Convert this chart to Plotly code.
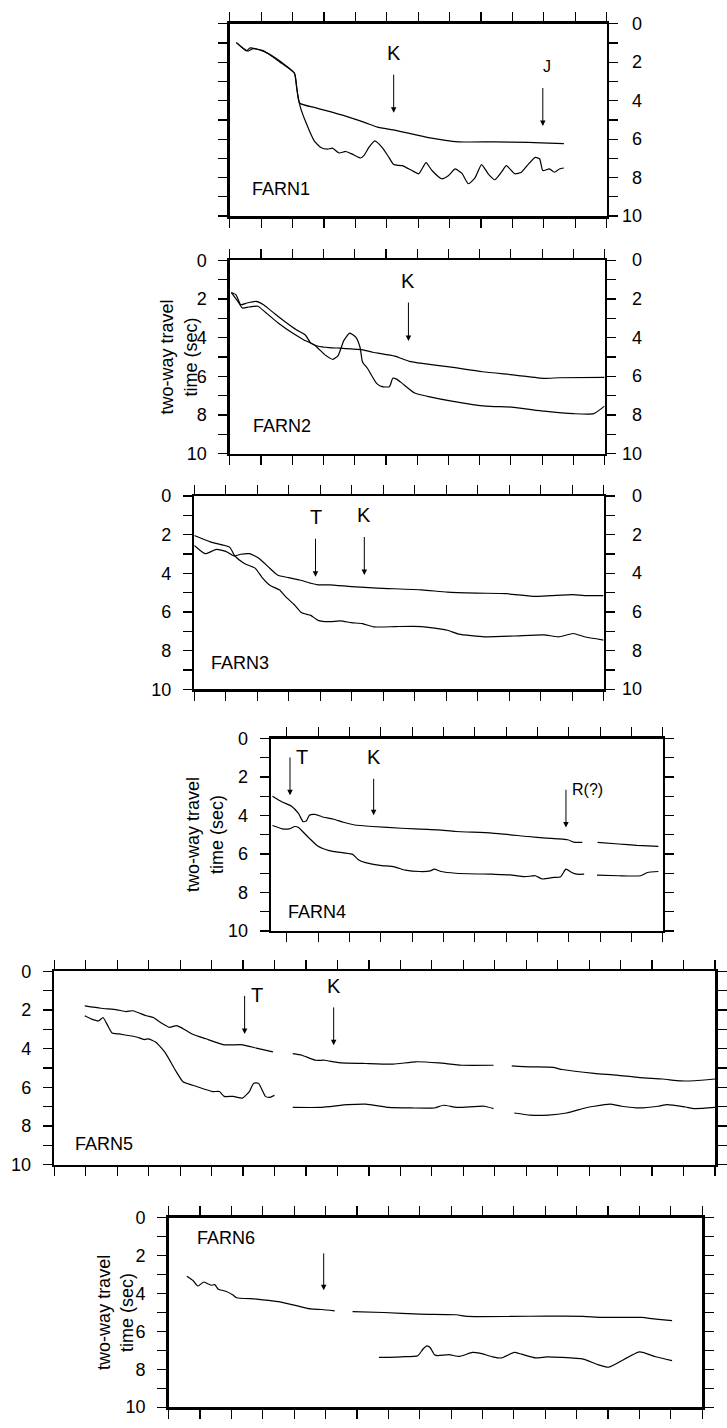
import plotly.graph_objects as go

# ---------------- data (x: distance in tick units, y: two-way travel time, s) ----------------
p1_upper_x = [0.21, 0.58, 0.74, 1.06, 1.58, 2.06, 2.22, 2.74, 3.69, 4.33, 4.70, 5.28, 6.33, 7.28, 8.44, 9.50, 9.92, 10.64]
p1_upper_y = [0.98, 1.42, 1.29, 1.39, 1.97, 2.57, 4.12, 4.37, 4.80, 5.15, 5.37, 5.54, 5.92, 6.14, 6.14, 6.17, 6.19, 6.23]
p1_lower_x = [0.21, 0.53, 0.65, 1.06, 1.48, 1.79, 2.06, 2.13, 2.24, 2.43, 2.69, 2.90, 3.11, 3.27, 3.48, 3.69, 3.90,
              4.17, 4.27, 4.43, 4.62, 4.85, 5.07, 5.22, 5.49, 5.80, 6.02, 6.25, 6.44, 6.75, 6.97, 7.18, 7.39, 7.60,
              7.81, 8.02, 8.23, 8.44, 8.65, 8.81, 9.08, 9.29, 9.50, 9.73, 9.87, 9.97, 10.18, 10.34, 10.50, 10.64]
p1_lower_y = [0.98, 1.41, 1.25, 1.42, 1.80, 2.18, 2.57, 3.34, 4.29, 5.15, 6.09, 6.43, 6.52, 6.47, 6.72, 6.64, 6.78,
              6.98, 6.86, 6.43, 6.09, 6.43, 6.95, 7.32, 7.38, 7.63, 7.80, 7.22, 7.63, 8.06, 7.89, 7.55, 7.77, 8.32,
              8.01, 7.32, 7.80, 8.11, 7.72, 7.38, 7.80, 7.72, 7.32, 6.95, 7.03, 7.63, 7.55, 7.72, 7.55, 7.50]

p2_upper_x = [0.05, 0.20, 0.35, 0.55, 0.84, 1.08, 1.43, 1.78, 2.13, 2.42, 2.59, 2.83, 3.18, 3.53, 3.88, 4.23, 4.58,
              5.28, 5.75, 6.22, 7.03, 8.09, 9.14, 10.07, 10.54, 12.0]
p2_upper_y = [1.66, 1.78, 2.29, 2.20, 2.12, 2.29, 2.75, 3.19, 3.59, 3.86, 4.27, 4.44, 4.51, 4.54, 4.58, 4.61, 4.75,
              4.95, 5.22, 5.34, 5.51, 5.76, 5.93, 6.10, 6.07, 6.05]
p2_lower_x = [0.05, 0.26, 0.40, 0.61, 0.90, 1.19, 1.54, 2.01, 2.36, 2.71, 3.06, 3.30, 3.47, 3.65, 3.84, 4.04, 4.17,
              4.25, 4.41, 4.70, 4.87, 5.11, 5.22, 5.34, 5.52, 5.92, 6.33, 7.15, 8.20, 9.02, 10.07, 11.01, 11.65, 12.0]
p2_lower_y = [1.66, 2.12, 2.46, 2.41, 2.37, 2.75, 3.22, 3.76, 4.10, 4.37, 4.90, 5.12, 4.92, 4.15, 3.76, 3.98, 4.49,
              5.25, 5.59, 6.36, 6.53, 6.53, 6.10, 6.14, 6.36, 6.86, 7.03, 7.29, 7.54, 7.59, 7.80, 7.93, 7.93, 7.54]

p3_upper_x = [0, 0.35, 0.70, 1.00, 1.26, 1.47, 1.76, 2.06, 2.35, 2.64, 2.99, 3.35, 3.70, 3.93, 4.29, 4.99, 5.81,
              7.22, 8.04, 8.98, 9.92, 10.75, 11.33, 12.04, 12.39, 13.0]
p3_upper_y = [2.55, 2.98, 2.76, 2.86, 3.10, 3.01, 2.98, 3.23, 3.66, 4.08, 4.22, 4.34, 4.51, 4.59, 4.59, 4.68, 4.76,
              4.85, 4.97, 5.02, 5.05, 5.19, 5.15, 5.10, 5.15, 5.15]
p3_lower_x = [0, 0.53, 1.12, 1.29, 1.59, 1.94, 2.17, 2.41, 2.70, 2.94, 3.17, 3.41, 3.70, 3.93, 4.29, 4.64, 4.99,
              5.34, 5.70, 6.40, 7.22, 8.04, 8.40, 9.22, 10.16, 11.10, 11.57, 12.04, 12.39, 13.0]
p3_lower_y = [2.04, 2.38, 2.64, 3.10, 3.49, 3.74, 4.25, 4.63, 4.85, 5.27, 5.61, 6.04, 6.17, 6.43, 6.50, 6.46, 6.55,
              6.60, 6.77, 6.75, 6.75, 6.94, 7.14, 7.28, 7.24, 7.18, 7.28, 7.11, 7.28, 7.45]

p4_upper_x = [-0.46, -0.15, 0.14, 0.37, 0.52, 0.62, 0.72, 0.89, 1.12, 1.47, 1.81, 2.16, 2.74, 3.66, 4.82, 5.39,
              6.55, 7.70, 8.28, 8.97, 9.15, 9.43, None, 9.92, 10.59, 11.17, 11.86]
p4_upper_y = [2.99, 3.29, 3.50, 3.89, 4.32, 4.28, 3.98, 3.94, 4.06, 4.18, 4.35, 4.49, 4.57, 4.66, 4.74, 4.83,
              4.91, 5.09, 5.17, 5.26, 5.38, 5.39, None, 5.39, 5.48, 5.55, 5.60]
p4_lower_x = [-0.46, -0.15, 0.08, 0.25, 0.37, 0.66, 1.00, 1.35, 1.81, 2.10, 2.27, 2.51, 2.97, 3.43, 3.78, 4.24,
              4.58, 4.70, 4.93, 5.39, 6.55, 7.12, 7.59, 7.93, 8.16, 8.51, 8.74, 8.91, 9.09, 9.26, 9.49, None,
              9.90, 10.59, 11.29, 11.51, 11.86]
p4_lower_y = [4.52, 4.69, 4.69, 4.57, 4.62, 5.09, 5.60, 5.82, 5.94, 6.02, 6.28, 6.45, 6.59, 6.67, 6.84, 6.91,
              6.88, 6.79, 6.91, 7.00, 7.05, 7.08, 7.18, 7.13, 7.30, 7.22, 7.18, 6.79, 6.96, 7.05, 7.05, None,
              7.10, 7.13, 7.13, 6.96, 6.91]

p5_upper_x = [0.97, 1.48, 1.99, 2.28, 2.50, 2.93, 3.15, 3.37, 3.66, 3.88, 4.02, 4.38, 4.82, 5.40, 5.98, 6.42, 6.95,
              None, 7.58, 7.87, 8.30, 8.59, 9.03, 9.90, 10.77, 11.49, 12.22, 12.95, 13.96,
              None, 14.54, 15.12, 15.85, 16.14, 17.16, 17.88, 18.61, 19.33, 19.91, 20.35, 21.0]
p5_upper_y = [1.79, 1.91, 1.99, 2.08, 2.04, 2.30, 2.39, 2.64, 2.90, 2.81, 2.90, 3.24, 3.49, 3.80, 3.80, 3.97, 4.17,
              None, 4.26, 4.34, 4.60, 4.60, 4.72, 4.77, 4.80, 4.68, 4.74, 4.86, 4.86,
              None, 4.89, 4.94, 4.97, 5.08, 5.28, 5.37, 5.50, 5.57, 5.67, 5.66, 5.57]
p5_lower_x = [0.97, 1.19, 1.41, 1.55, 1.70, 1.84, 2.06, 2.35, 2.64, 2.86, 3.00, 3.22, 3.51, 3.88, 4.09, 4.53, 5.04,
              5.25, 5.40, 5.69, 5.98, 6.20, 6.34, 6.49, 6.63, 6.71, 6.85, 7.00,
              None, 7.58, 8.45, 9.32, 9.90, 10.62, 11.35, 12.08, 12.37, 12.80, 13.67, 13.96,
              None, 14.62, 15.12, 15.70, 16.28, 16.87, 17.16, 17.66, 18.03, 18.61, 19.19, 19.48, 20.06, 20.35, 21.0]
p5_lower_y = [2.30, 2.47, 2.56, 2.39, 2.81, 3.19, 3.24, 3.32, 3.41, 3.53, 3.49, 3.66, 4.17, 5.20, 5.71, 5.96, 6.22,
              6.22, 6.47, 6.47, 6.56, 6.22, 5.79, 5.79, 6.22, 6.47, 6.52, 6.42,
              None, 7.04, 7.04, 6.90, 6.87, 7.04, 7.07, 7.07, 6.93, 7.04, 6.98, 7.10,
              None, 7.33, 7.44, 7.44, 7.33, 7.07, 6.98, 6.87, 6.98, 7.07, 6.98, 6.90, 7.02, 7.10, 7.04]

p6_upper_x = [0.58, 0.77, 0.93, 1.12, 1.24, 1.35, 1.47, 1.58, 1.82, 2.05, 2.16, 2.80, 3.49, 4.07, 4.53, 4.88, 5.29,
              None, 5.86, 6.85, 8.00, 9.16, 9.51, 10.89, 12.05, 13.21, 13.79, 15.06, 15.52, 16.04]
p6_upper_y = [3.08, 3.30, 3.60, 3.39, 3.48, 3.56, 3.53, 3.77, 3.88, 4.08, 4.22, 4.29, 4.43, 4.64, 4.81, 4.84, 4.91,
              None, 4.95, 5.00, 5.09, 5.12, 5.21, 5.21, 5.19, 5.21, 5.26, 5.26, 5.35, 5.43]
p6_lower_x = [6.70, 7.42, 7.94, 8.10, 8.23, 8.33, 8.47, 8.58, 8.93, 9.27, 9.68, 9.91, 10.32, 10.60, 11.01, 11.24,
              11.70, 12.05, 12.51, 13.21, 13.67, 14.02, 15.00, 15.52, 16.04]
p6_lower_y = [7.37, 7.34, 7.28, 6.94, 6.76, 6.85, 7.23, 7.28, 7.23, 7.32, 7.11, 7.15, 7.34, 7.40, 7.11, 7.20,
              7.40, 7.34, 7.37, 7.46, 7.75, 7.89, 7.08, 7.34, 7.54]

# panel names, marker arrows (label, x, arrow top, arrow tip)
panel_names = ["FARN1", "FARN2", "FARN3", "FARN4", "FARN5", "FARN6"]
p1_markers = [("K", 5.22, 2.57, 4.63), ("J", 9.97, 3.26, 5.32)]
p2_markers = [("K", 5.72, 2.10, 4.17)]
p3_markers = [("T", 3.85, 2.13, 4.17), ("K", 5.40, 2.04, 4.08)]
p4_markers = [("T", 0.10, 0.90, 2.95), ("K", 2.77, 2.01, 3.98), ("R(?)", 8.91, 2.58, 4.62)]
p5_markers = [("T", 6.05, 1.19, 3.24), ("K", 8.88, 1.79, 3.83)]
p6_markers = [("", 4.94, 1.80, 3.82)]

y_ticks = list(range(0, 11))
y_ticktext = [str(v) if v % 2 == 0 else "" for v in y_ticks]
y_title = "two-way travel<br>time (sec)"

# ---------------- layout geometry (pixels) ----------------
W, H = 727, 1428
FONT = "Liberation Sans, Arial, Helvetica, sans-serif"

# (left, right, top, bottom, xmin, xmax, left labels, right labels, y title center x)
panels = [
    (233, 615, 14, 209, 0, 12, False, True, None),
    (233, 613, 254, 450, 0, 12, True, True, 181),
    (197, 612, 493, 689, 0, 13, True, True, None),
    (275, 672, 739, 934, -0.5, 12, True, False, 208),
    (55, 725, 975, 1171, 0, 21, True, False, None),
    (171, 712, 1225, 1417, 0, 17, True, False, 117),
]
series = [
    (p1_upper_x, p1_upper_y, p1_lower_x, p1_lower_y),
    (p2_upper_x, p2_upper_y, p2_lower_x, p2_lower_y),
    (p3_upper_x, p3_upper_y, p3_lower_x, p3_lower_y),
    (p4_upper_x, p4_upper_y, p4_lower_x, p4_lower_y),
    (p5_upper_x, p5_upper_y, p5_lower_x, p5_lower_y),
    (p6_upper_x, p6_upper_y, p6_lower_x, p6_lower_y),
]
markers = [p1_markers, p2_markers, p3_markers, p4_markers, p5_markers, p6_markers]
name_pos = [(0.65, 8.58), (0.67, 8.56), (0.47, 8.64), (-0.03, 9.0), (0.61, 8.94), (0.83, 1.06)]
label_sizes = {"K": 20, "T": 20, "J": 16, "R(?)": 16}

fig = go.Figure()
annotations = []
layout = {}

for i, (pan, ser) in enumerate(zip(panels, series), start=1):
    left, right, top, bottom, xmin, xmax, lab_left, lab_right, tcx = pan
    xa = "x" if i == 1 else f"x{i}"
    ya = "y" if i == 1 else f"y{i}"
    xkey = "xaxis" if i == 1 else f"xaxis{i}"
    ykey = "yaxis" if i == 1 else f"yaxis{i}"
    ux, uy, lx, ly = ser
    for xs, ys in ((ux, uy), (lx, ly)):
        fig.add_trace(go.Scatter(x=xs, y=ys, mode="lines", xaxis=xa, yaxis=ya,
                                 line=dict(color="black", width=1.2, shape="spline", smoothing=0.5),
                                 connectgaps=False, hoverinfo="skip", showlegend=False))
    layout[xkey] = dict(domain=[left / W, right / W], range=[xmin, xmax], anchor=ya,
                        tickmode="linear", tick0=0, dtick=1, ticks="outside", ticklen=9, tickwidth=1.2,
                        tickcolor="black", showline=True, linewidth=2.5, linecolor="black",
                        mirror="ticks", showticklabels=False, showgrid=False, zeroline=False)
    layout[ykey] = dict(domain=[1 - bottom / H, 1 - top / H], range=[10, 0], anchor=xa,
                        tickmode="array", tickvals=y_ticks, ticktext=y_ticktext, ticks="outside",
                        ticklen=9, tickwidth=1.2, tickcolor="black", showline=True, linewidth=2.5,
                        linecolor="black", mirror="ticks", showticklabels=lab_left, side="left",
                        ticklabelstandoff=8, showgrid=False, zeroline=False,
                        tickfont=dict(family=FONT, size=18, color="black"))
    if lab_right:
        for v in y_ticks:
            if v % 2 == 0:
                annotations.append(dict(x=653 / W, xref="paper", y=v, yref=ya, text=str(v),
                                        showarrow=False, xanchor="right", yanchor="middle",
                                        font=dict(family=FONT, size=18, color="black")))
    if tcx is not None:
        annotations.append(dict(x=tcx / W, y=1 - (top + bottom) / 2 / H, xref="paper", yref="paper",
                                text=y_title, textangle=-90, showarrow=False, xanchor="center",
                                yanchor="middle", font=dict(family=FONT, size=18, color="black")))
    nx, ny = name_pos[i - 1]
    annotations.append(dict(x=nx, y=ny, xref=xa, yref=ya, text=panel_names[i - 1], showarrow=False,
                            xanchor="left", yanchor="middle", font=dict(family=FONT, size=18, color="black")))
    for lab, mx, atop, tip in markers[i - 1]:
        annotations.append(dict(x=mx, y=tip, ax=mx, ay=atop, xref=xa, yref=ya, axref=xa, ayref=ya,
                                text="", showarrow=True, arrowhead=2, arrowsize=1.1, arrowwidth=1,
                                arrowcolor="black", standoff=0, startstandoff=0))
        if lab:
            size = label_sizes.get(lab, 18)
            if lab == "K" or (lab == "T" and i == 3):
                annotations.append(dict(x=mx, y=atop - 1.05, xref=xa, yref=ya, text=lab, showarrow=False,
                                        xanchor="center", yanchor="middle",
                                        font=dict(family=FONT, size=size, color="black")))
            elif lab == "J":
                annotations.append(dict(x=mx + 0.12, y=atop - 1.05, xref=xa, yref=ya, text=lab,
                                        showarrow=False, xanchor="center", yanchor="middle",
                                        font=dict(family=FONT, size=size, color="black")))
            else:
                annotations.append(dict(x=mx + 0.14, y=atop + 0.05, xref=xa, yref=ya, text=lab,
                                        showarrow=False, xanchor="left", yanchor="middle",
                                        font=dict(family=FONT, size=size, color="black")))

fig.update_layout(width=W, height=H, margin=dict(l=0, r=0, t=0, b=0), autosize=False,
                  paper_bgcolor="white", plot_bgcolor="white", showlegend=False, hovermode=False,
                  annotations=annotations, font=dict(family=FONT, color="black"), **layout)
fig.write_html("out.html", config={"displayModeBar": False, "staticPlot": True},
               post_script="document.body.style.margin='0px';document.body.style.overflow='hidden';")
